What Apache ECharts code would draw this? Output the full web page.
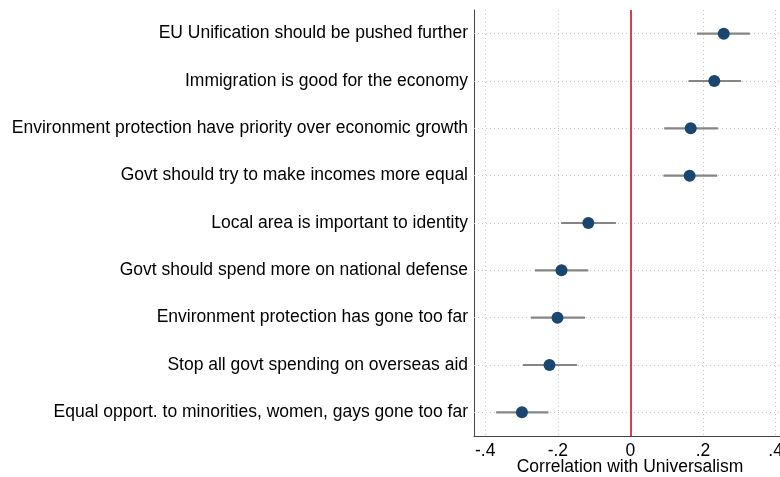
<!DOCTYPE html>
<html>
<head>
<meta charset="utf-8">
<script src="https://cdn.jsdelivr.net/npm/echarts@6/dist/echarts.min.js"></script>
<style>
  html, body { margin: 0; padding: 0; background: #fff; }
  #chart { width: 780px; height: 477px; }
</style>
</head>
<body>
<div id="chart"></div>
<script>
// Survey items, top to bottom
const items = [
  'EU Unification should be pushed further',
  'Immigration is good for the economy',
  'Environment protection have priority over economic growth',
  'Govt should try to make incomes more equal',
  'Local area is important to identity',
  'Govt should spend more on national defense',
  'Environment protection has gone too far',
  'Stop all govt spending on overseas aid',
  'Equal opport. to minorities, women, gays gone too far'
];
// Point estimates and confidence bounds
const estimate = [0.257, 0.231, 0.166, 0.163, -0.116, -0.190, -0.201, -0.223, -0.299];
const lower    = [0.183, 0.160, 0.093, 0.091, -0.191, -0.263, -0.274, -0.296, -0.370];
const upper    = [0.329, 0.305, 0.241, 0.239, -0.040, -0.116, -0.125, -0.147, -0.226];
// Axis tick values
const xTicks = [-0.4, -0.2, 0, 0.2, 0.4];
const xTitle = 'Correlation with Universalism';

const fmt = v => {
  if (Math.abs(v) < 1e-9) return '0';
  const s = Math.abs(v).toFixed(1).replace(/^0/, '');
  return (v < 0 ? '-' : '') + s;
};

const gridStyle = { color: '#c4c4c4', type: [1, 3], width: 1 };
const font = 'Liberation Sans, Arial, sans-serif';

const chart = echarts.init(document.getElementById('chart'), null, { renderer: 'canvas' });
chart.setOption({
  animation: false,
  textStyle: { fontFamily: font },
  grid: { left: 474, right: 0, top: 10, bottom: 41, containLabel: false, outerBoundsMode: 'none' },
  xAxis: {
    type: 'value',
    min: -0.431,
    max: 0.412,
    axisLine: { show: true, lineStyle: { color: '#444', width: 1 } },
    axisTick: { show: false, customValues: xTicks },
    axisLabel: { customValues: xTicks, formatter: fmt, fontSize: 17.5, color: '#000', margin: 6, hideOverlap: false },
    splitLine: { show: false }
  },
  yAxis: {
    type: 'category',
    data: items,
    inverse: true,
    axisLine: { show: true, onZero: false, lineStyle: { color: '#444', width: 1 } },
    axisTick: { show: false },
    axisLabel: { fontSize: 17.5, color: '#000', margin: 6 },
    splitLine: { show: false }
  },
  graphic: [{
    // x-axis title, centred under the zero line
    type: 'text',
    x: 630,
    y: 467,
    style: {
      text: xTitle,
      font: '17.5px ' + font,
      fill: '#000',
      align: 'center',
      verticalAlign: 'middle'
    }
  }],
  series: [
    {
      // dotted reference grid
      type: 'scatter',
      data: [],
      silent: true,
      z: 1,
      markLine: {
        symbol: 'none',
        silent: true,
        z: 1,
        label: { show: false },
        lineStyle: gridStyle,
        data: xTicks.filter(v => v !== 0).map(v => ({ xAxis: v }))
          .concat(items.map(c => ({ yAxis: c })))
      }
    },
    {
      type: 'custom',
      silent: true,
      renderItem: (params, api) => {
        const cat = api.value(0);
        const p1 = api.coord([api.value(1), cat]);
        const p2 = api.coord([api.value(2), cat]);
        return {
          type: 'line',
          shape: { x1: p1[0], y1: p1[1], x2: p2[0], y2: p2[1] },
          style: { stroke: '#858585', lineWidth: 2.2 }
        };
      },
      encode: { x: [1, 2], y: 0 },
      data: items.map((c, i) => [i, lower[i], upper[i]]),
      z: 3
    },
    {
      type: 'scatter',
      symbolSize: 12,
      itemStyle: { color: '#1a476f', opacity: 1 },
      data: items.map((c, i) => [estimate[i], c]),
      z: 4,
      markLine: {
        symbol: 'none',
        silent: true,
        z: 2,
        label: { show: false },
        lineStyle: { color: '#c8102e', type: 'solid', width: 1.6 },
        data: [{ xAxis: 0 }]
      }
    }
  ]
});
</script>
</body>
</html>
